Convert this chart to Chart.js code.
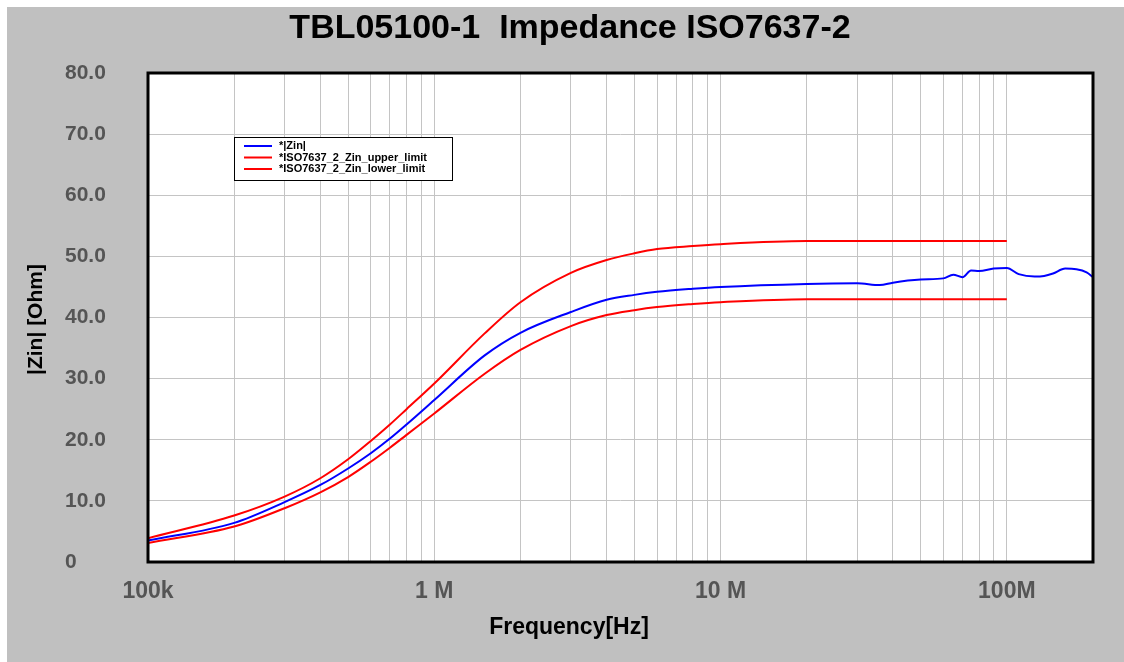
<!DOCTYPE html>
<html>
<head>
<meta charset="utf-8">
<script src="https://cdn.jsdelivr.net/npm/chart.js@4.4.1/dist/chart.umd.min.js"></script>
<style>
  html, body { margin: 0; padding: 0; background: #ffffff; }
  #wrap { width: 1124px; height: 662px; position: relative; }
</style>
</head>
<body>
<div id="wrap"><canvas id="zinChart"></canvas></div>
<script>
// Frequencies (Hz) for the ISO7637-2 limit curves
const limitFreq = [1e5, 2e5, 3e5, 4e5, 5e5, 6e5, 7e5, 8e5, 1e6, 1.5e6, 2e6, 3e6, 4e6, 5e6, 6e6, 8e6, 1e7, 2e7, 5e7, 1e8];
const upperLimit = [3.9, 7.6, 10.7, 13.7, 16.8, 19.8, 22.5, 25.0, 29.2, 37.4, 42.5, 47.3, 49.4, 50.5, 51.2, 51.7, 52.0, 52.5, 52.5, 52.5];
const lowerLimit = [3.1, 5.8, 8.8, 11.4, 13.9, 16.4, 18.7, 20.8, 24.3, 30.8, 34.7, 38.6, 40.4, 41.2, 41.7, 42.2, 42.5, 43.0, 43.0, 43.0];

// Measured |Zin|
const zinFreq = [1e5, 2e5, 3e5, 4e5, 5e5, 6e5, 7e5, 8e5, 1e6, 1.5e6, 2e6, 3e6, 4e6, 5e6, 6e6, 8e6, 1e7, 2e7, 3e7, 3.6e7, 4e7, 5e7, 6e7, 6.5e7, 7e7, 7.5e7, 8e7, 9e7, 1e8, 1.1e8, 1.25e8, 1.35e8, 1.45e8, 1.6e8, 1.75e8, 1.9e8, 2e8];
const zinValues = [3.5, 6.4, 9.8, 12.6, 15.3, 17.8, 20.2, 22.5, 26.5, 33.8, 37.5, 40.9, 42.9, 43.7, 44.2, 44.7, 45.0, 45.5, 45.6, 45.3, 45.7, 46.2, 46.4, 47.0, 46.6, 47.7, 47.6, 48.0, 48.1, 47.1, 46.7, 46.8, 47.2, 48.0, 47.9, 47.4, 46.6];

// Axis labels
const decadeLabels = { 1e5: '100k', 1e6: '1 M', 1e7: '10 M', 1e8: '100M' };
const yTickLabels = ['0', '10.0', '20.0', '30.0', '40.0', '50.0', '60.0', '70.0', '80.0'];

const toPoints = (xs, ys) => xs.map((x, i) => ({ x: x, y: ys[i] }));

const FONT = "'Liberation Sans', Arial, sans-serif";

// grey frame, plot border, titles and the little legend box
const framePlugin = {
    id: 'frame',
    beforeDraw(chart) {
        const ctx = chart.ctx;
        ctx.save();
        ctx.fillStyle = '#ffffff';
        ctx.fillRect(0, 0, chart.width, chart.height);
        ctx.fillStyle = '#c0c0c0';
        ctx.fillRect(7, 7, chart.width - 7, chart.height - 7);
        const a = chart.chartArea;
        ctx.fillStyle = '#ffffff';
        ctx.fillRect(a.left, a.top, a.right - a.left, a.bottom - a.top);
        ctx.restore();
    },
    afterDraw(chart) {
        const ctx = chart.ctx;
        const a = chart.chartArea;
        ctx.save();
        ctx.strokeStyle = '#000000';
        ctx.lineWidth = 3;
        ctx.strokeRect(a.left, a.top, a.right - a.left, a.bottom - a.top);

        ctx.fillStyle = '#000000';
        ctx.textAlign = 'center';
        ctx.textBaseline = 'middle';

        // chart title
        ctx.font = 'bold 34px ' + FONT;
        ctx.fillText('TBL05100-1  Impedance ISO7637-2', 570, 29);

        // x axis title
        ctx.font = 'bold 23px ' + FONT;
        ctx.fillText('Frequency[Hz]', 569, 628);

        // y axis title
        ctx.translate(36, (a.top + a.bottom) / 2 + 2);
        ctx.rotate(-Math.PI / 2);
        ctx.font = 'bold 21px ' + FONT;
        ctx.fillText('|Zin| [Ohm]', 0, 0);
        ctx.restore();

        // legend
        ctx.save();
        const lx = 234, ly = 137, lw = 218, lh = 43;
        ctx.fillStyle = '#ffffff';
        ctx.fillRect(lx, ly, lw, lh);
        ctx.strokeStyle = '#000000';
        ctx.lineWidth = 1;
        ctx.strokeRect(lx + 0.5, ly + 0.5, lw, lh);
        ctx.font = 'bold 11px ' + FONT;
        ctx.textBaseline = 'middle';
        chart.data.datasets.forEach((ds, i) => {
            const y = ly + 9 + i * 11.5;
            ctx.strokeStyle = ds.borderColor;
            ctx.lineWidth = 2;
            ctx.beginPath();
            ctx.moveTo(lx + 10, y);
            ctx.lineTo(lx + 38, y);
            ctx.stroke();
            ctx.fillStyle = '#000000';
            ctx.fillText(ds.label, lx + 45, y);
        });
        ctx.restore();
    }
};

const ctx = document.getElementById('zinChart').getContext('2d');
const zinChart = new Chart(ctx, {
    type: 'line',
    data: {
        datasets: [
            {
                label: '*|Zin|',
                data: toPoints(zinFreq, zinValues),
                borderColor: '#0000ff',
                borderWidth: 2,
                pointRadius: 0,
                cubicInterpolationMode: 'monotone'
            },
            {
                label: '*ISO7637_2_Zin_upper_limit',
                data: toPoints(limitFreq, upperLimit),
                borderColor: '#ff0000',
                borderWidth: 2,
                pointRadius: 0,
                cubicInterpolationMode: 'monotone'
            },
            {
                label: '*ISO7637_2_Zin_lower_limit',
                data: toPoints(limitFreq, lowerLimit),
                borderColor: '#ff0000',
                borderWidth: 2,
                pointRadius: 0,
                cubicInterpolationMode: 'monotone'
            }
        ]
    },
    options: {
        responsive: true,
        maintainAspectRatio: false,
        animation: false,
        layout: {
            padding: { left: 65, right: 31, top: 73, bottom: 0 }
        },
        plugins: {
            legend: { display: false },
            tooltip: { enabled: false },
            title: { display: false }
        },
        scales: {
            x: {
                type: 'logarithmic',
                min: 1e5,
                max: 2e8,
                afterBuildTicks(scale) {
                    const ticks = [];
                    for (let dec = 1e5; dec <= 1e8; dec *= 10) {
                        for (let m = 1; m <= 9; m++) {
                            const v = m * dec;
                            if (v <= 2e8) ticks.push({ value: v });
                        }
                    }
                    scale.ticks = ticks;
                },
                afterFit(scale) { scale.height = 100; },
                grid: {
                    color: '#c4c4c4',
                    lineWidth: 1,
                    drawTicks: false
                },
                border: { display: false },
                ticks: {
                    autoSkip: false,
                    maxRotation: 0,
                    padding: 16,
                    color: '#555555',
                    font: { family: FONT, size: 23, weight: 'bold' },
                    callback: (v) => decadeLabels[v] || ''
                }
            },
            y: {
                min: 0,
                max: 80,
                afterFit(scale) { scale.width = 83; },
                grid: {
                    color: '#c4c4c4',
                    lineWidth: 1,
                    drawTicks: false
                },
                border: { display: false },
                ticks: {
                    stepSize: 10,
                    crossAlign: 'far',
                    color: '#555555',
                    font: { family: FONT, size: 21, weight: 'bold' },
                    callback: (v) => yTickLabels[Math.round(v / 10)]
                }
            }
        }
    },
    plugins: [framePlugin]
});
</script>
</body>
</html>
